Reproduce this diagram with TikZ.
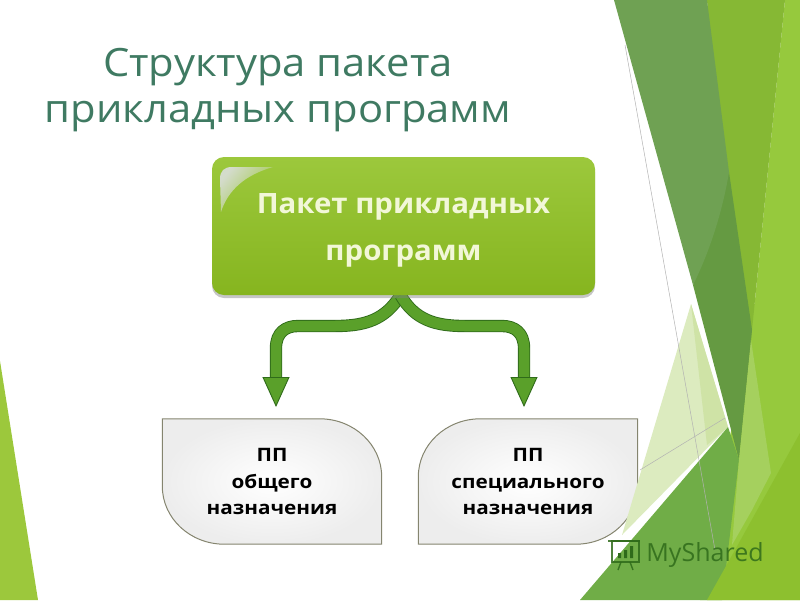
\documentclass[tikz,border=0pt]{standalone}
\usepackage{fontspec}
\setmainfont{Open Sans}
\newfontfamily\titlefont[FakeStretch=1.07]{Open Sans}
\newfontfamily\packfont[FakeStretch=1.05]{Open Sans}
\newfontfamily\kindfont[FakeStretch=1.12]{Open Sans}
\usepackage{tikz}
\usetikzlibrary{arrows.meta,shadows,backgrounds,fadings}
\definecolor{wedgedark}{HTML}{6FA153}
\definecolor{wedgedeep}{HTML}{659A42}
\definecolor{wedgemid}{HTML}{86B834}
\definecolor{wedgelight}{HTML}{96C93D}
\definecolor{wedgepale}{HTML}{DCEBBF}
\definecolor{wedgepaler}{HTML}{CFE3A6}
\definecolor{wedgesoft}{HTML}{A5D05E}
\definecolor{floorgreen}{HTML}{70AD47}
\definecolor{floorbright}{HTML}{8DC02F}
\definecolor{titlegreen}{HTML}{3F7A62}
\definecolor{flowgreen}{HTML}{5AA02A}
\definecolor{flowdark}{HTML}{2F6B1A}
\definecolor{packtop}{HTML}{9CC83C}
\definecolor{packbottom}{HTML}{86B51F}
\definecolor{packtext}{HTML}{F2F7D8}
\definecolor{packgloss}{HTML}{D4DCCB}
\definecolor{kindedge}{HTML}{85856F}
\tikzset{
	titleline/.style={text=titlegreen,font=\titlefont\fontsize{39}{39}\selectfont,inner sep=0pt},
	packbox/.style={rounded corners=12pt,top color=packtop,bottom color=packbottom,
		drop shadow={shadow xshift=0pt,shadow yshift=-3pt,opacity=.45},
		minimum width=383pt,minimum height=138pt,align=center,text=packtext,
		font=\packfont\bfseries\fontsize{28}{47}\selectfont},
	kindlabel/.style={minimum width=219pt,minimum height=125pt,align=center,
		font=\kindfont\bfseries\fontsize{18.5}{26.5}\selectfont},
	kindshape/.style={draw=kindedge,line width=1pt,inner color=white,outer color=black!7},
	flow/.style={double=flowgreen,double distance=10.5pt,draw=flowdark,line width=.9pt,
		shorten >=12pt,-{Triangle[length=30pt,width=27pt,fill=flowgreen]}},
	thinline/.style={draw=black!30,line width=.5pt},
	markline/.style={draw=flowdark,line width=1.4pt,opacity=.85}
}
\begin{document}
\begin{tikzpicture}[x=1pt,y=-1pt]
		\useasboundingbox (0,0) rectangle (800,600);
		% wedges, left and right
		\fill[packtop] (0,361) -- (38,600) -- (0,600) -- cycle;
		\fill[wedgelight] (785,0) -- (800,0) -- (800,600) -- (700,600) -- (755,300) -- cycle;
		\fill[wedgemid] (707,0) -- (785,0) -- (755,300) -- (739,460) -- cycle;
		\fill[wedgedeep] (693,285) -- (729,172) -- (752,330) -- (739,460) -- cycle;
		\fill[wedgedark] (614,0) -- (707,0) -- (729,172) .. controls (722,215) and (708,255) .. (693,285) -- cycle;
		\fill[wedgepale] (691,304) -- (728,427) -- (622,535) -- cycle;
		\fill[wedgepaler] (691,304) -- (728,427) -- (707,445) -- cycle;
		\fill[floorgreen] (580,600) -- (728,427) -- (739,460) -- (722,600) -- cycle;
		\fill[floorbright] (800,433) -- (800,600) -- (707,600) -- (735,550) -- cycle;
		\fill[wedgesoft] (751,340) -- (771,473) -- (752,510) -- (732,545) -- (739,460) -- cycle;
		\draw[thinline] (625,45) -- (715,550);
		\draw[thinline] (640,470) -- (725,418);
		%
		\node[titleline] (title1) at (278,67) {Структура пакета};
		\node[titleline] (title2) at (278,117) {прикладных программ};
		%
		\node[packbox] (pack) at (403.5,226) {\rule{0pt}{28pt}Пакет прикладных\\программ};
		\fill[packgloss,path fading=east,fading angle=-35]
			(220,179) .. controls (220,171) and (224,167) .. (232,167) -- (273,167)
			.. controls (245,175) and (228,190) .. (221,212) -- cycle;
		%
		\node[kindlabel] (general) at (272,481.5) {ПП\\общего\\назначения};
		\node[kindlabel] (special) at (528,481.5) {ПП\\специального\\назначения};
		\coordinate (generalin) at (276,419);
		\coordinate (specialin) at (524,419);
		%
		\begin{scope}[on background layer]
		\draw[kindshape] (general.north west) -- ([xshift=-62pt]general.north east)
			arc[start angle=90,end angle=0,x radius=62pt,y radius=58pt]
			-- (general.south east) -- ([xshift=62pt]general.south west)
			arc[start angle=270,end angle=180,x radius=62pt,y radius=58pt] -- cycle;
		\draw[kindshape] (special.north east) -- ([xshift=62pt]special.north west)
			arc[start angle=90,end angle=180,x radius=62pt,y radius=58pt]
			-- (special.south west) -- ([xshift=-62pt]special.south east)
			arc[start angle=270,end angle=360,x radius=62pt,y radius=58pt] -- cycle;
		\draw[flow] ([xshift=-3pt]pack.south) .. controls (385,320) and (365,326) .. (335,326)
			-- (298,326) .. controls (285,326) and (276,333) .. (276,348) -- (generalin);
		\draw[flow] ([xshift=-3pt]pack.south) .. controls (415,320) and (435,326) .. (465,326)
			-- (502,326) .. controls (515,326) and (524,333) .. (524,348) -- (specialin);
		\end{scope}
		%
		% the mark in the corner
		\draw[markline] (612,541) rectangle (639,562);
		\draw[markline] (608,541) -- (640,541);
		\draw[markline] (621,562) -- (618,570) (630,562) -- (633,570);
		\fill[flowdark] (618,553) rectangle (621,558) (624,550) rectangle (627,558) (630,546) rectangle (633,558);
		\node[text=flowdark,opacity=.85,font=\fontsize{25}{25}\selectfont,inner sep=0pt] (mark) at (705,555) {MyShared};
\end{tikzpicture}
\end{document}
